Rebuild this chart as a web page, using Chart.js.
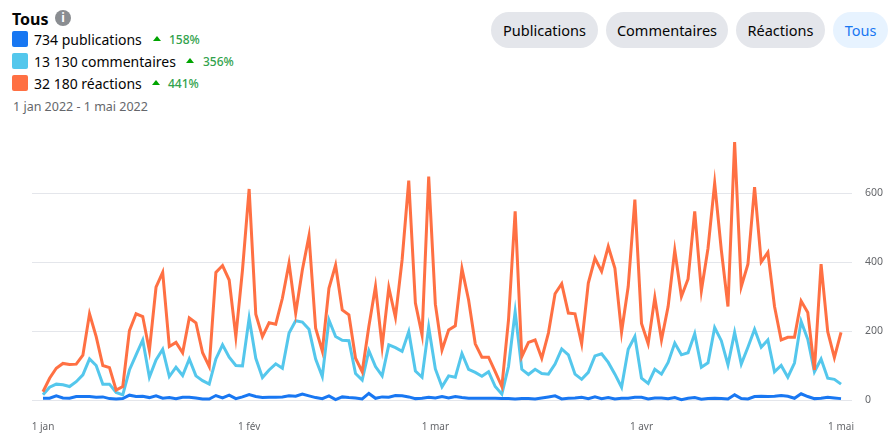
<!DOCTYPE html>
<html lang="fr">
<head>
<meta charset="utf-8">
<title>Tous</title>
<script src="https://cdn.jsdelivr.net/npm/chart.js@4"></script>
<style>
  html, body { margin: 0; padding: 0; background: #fff; }
  body { width: 893px; height: 441px; position: relative; overflow: hidden; font-family: "Noto Sans", sans-serif; color: #050505; }
  .abs { position: absolute; white-space: nowrap; }
  #title { left: 12px; top: 7px; font-size: 16px; line-height: 24px; font-weight: 700; }
  #info { left: 55px; top: 10px; width: 16px; height: 16px; border-radius: 50%; background: #8a8d91; color: #fff; font-size: 12px; line-height: 16px; font-weight: 700; text-align: center; }
  .swatch { left: 12px; width: 16px; height: 16px; border-radius: 2px; }
  .count { left: 34px; font-size: 14px; line-height: 20px; }
  .arrow { width: 0; height: 0; border-left: 4px solid transparent; border-right: 4px solid transparent; border-bottom: 5px solid #00a400; }
  .pct { font-size: 12px; line-height: 16px; font-weight: 500; color: #31a24c; }
  #range { left: 13px; top: 98px; font-size: 12.5px; line-height: 18px; color: #65676b; }
  .btn { top: 12px; height: 36px; line-height: 36px; border-radius: 18px; background: #e4e6eb; text-align: center; font-size: 14.5px; }
  .btn.on { background: #e7f3ff; color: #1877f2; }
  #wrap { position: absolute; left: 0; top: 130px; width: 893px; height: 311px; }
</style>
</head>
<body>
<div class="abs" id="title">Tous</div>
<div class="abs" id="info">i</div>
<div id="legend"></div>
<div class="abs" id="range">1 jan 2022 - 1 mai 2022</div>
<div id="buttons"></div>
<div id="wrap"><canvas id="chart"></canvas></div>

<script>
const seriesNames = ['publications', 'commentaires', 'réactions'];
const seriesTotals = ['734', '13 130', '32 180'];
const seriesChanges = ['158%', '356%', '441%'];
const seriesColors = ['#1877f2', '#54c7ec', '#ff7043'];
const buttonLabels = ['Publications', 'Commentaires', 'Réactions', 'Tous'];

const tickDays = [0, 31, 59, 90, 120];
const tickLabels = ['1 jan', '1 fév', '1 mar', '1 avr', '1 mai'];
const yTicks = [0, 200, 400, 600];

// one value per day, 1 jan to 1 mai
const publications = [
  5, 5, 12, 6, 5, 10, 10, 10, 8, 9, 4, 3, 4, 14, 10, 11, 7, 12, 5, 7, 4, 8, 8, 6, 3, 3, 13, 6, 14, 4, 9,
  16, 10, 7, 8, 8, 9, 12, 11, 17, 12, 7, 4, 12, 1, 9, 7, 6, 3, 19, 5, 9, 8, 13, 12, 9, 4, 5, 8,
  6, 10, 6, 10, 7, 5, 5, 5, 5, 5, 4, 4, 3, 4, 4, 3, 6, 9, 12, 3, 5, 6, 8, 4, 9, 4, 7, 3, 5, 5, 8,
  8, 3, 6, 6, 4, 7, 1, 5, 7, 2, 4, 5, 4, 3, 15, 4, 3, 10, 11, 10, 11, 13, 11, 5, 18, 10, 4, 5, 8, 6,
  4
];
const commentaires = [
  15, 37, 46, 44, 39, 53, 73, 119, 100, 46, 46, 22, 15, 87, 131, 174, 66, 116, 147, 68, 95, 71, 119, 70, 56, 46, 119, 160, 124, 100, 99,
  237, 121, 65, 87, 105, 92, 194, 230, 226, 205, 119, 68, 232, 184, 173, 172, 77, 58, 143, 97, 70, 160, 152, 141, 198, 84, 66, 211,
  90, 38, 70, 66, 135, 89, 80, 69, 82, 39, 17, 97, 256, 89, 74, 89, 77, 75, 104, 148, 131, 75, 60, 80, 128, 134, 109, 75, 37, 147, 184,
  63, 48, 89, 75, 109, 165, 131, 137, 192, 95, 108, 210, 172, 102, 196, 104, 153, 205, 153, 174, 82, 100, 66, 107, 228, 176, 82, 119, 63, 60,
  46
];
const reactions = [
  24, 63, 92, 106, 103, 104, 130, 250, 184, 100, 94, 29, 39, 201, 250, 242, 143, 327, 370, 155, 167, 137, 238, 224, 137, 97, 370, 390, 348, 184, 377,
  612, 249, 184, 224, 220, 295, 397, 252, 377, 476, 208, 142, 324, 391, 261, 247, 121, 82, 213, 329, 155, 326, 240, 406, 636, 281, 189, 648,
  278, 145, 203, 215, 381, 290, 163, 124, 124, 82, 39, 232, 547, 126, 167, 174, 121, 194, 308, 337, 252, 250, 163, 339, 411, 373, 445, 382, 197, 329, 581,
  222, 163, 297, 174, 271, 434, 300, 351, 547, 317, 440, 629, 435, 271, 748, 329, 394, 617, 400, 428, 271, 174, 182, 182, 287, 254, 87, 394, 198, 123,
  196
];
const seriesValues = [publications, commentaires, reactions];

// header built from the arrays above
const legendTops = [31, 53, 75];
const arrowLefts = [153, 186, 152];
const pctLefts = [169, 203, 168];
const legend = document.getElementById('legend');
seriesNames.forEach((name, i) => {
  const top = legendTops[i];
  legend.insertAdjacentHTML('beforeend',
    `<div class="abs swatch" style="top:${top}px;background:${seriesColors[i]}"></div>` +
    `<div class="abs count" style="top:${top - 1}px">${seriesTotals[i]} ${name}</div>` +
    `<div class="abs arrow" style="left:${arrowLefts[i]}px;top:${top + 5}px"></div>` +
    `<div class="abs pct" style="left:${pctLefts[i]}px;top:${top + 1}px">${seriesChanges[i]}</div>`);
});

const buttonLefts = [491, 606, 736, 833];
const buttonWidths = [107, 122, 89, 55];
const buttons = document.getElementById('buttons');
buttonLabels.forEach((label, i) => {
  const on = i === buttonLabels.length - 1 ? ' on' : '';
  buttons.insertAdjacentHTML('beforeend',
    `<div class="abs btn${on}" style="left:${buttonLefts[i]}px;width:${buttonWidths[i]}px">${label}</div>`);
});

const xValues = reactions.map((v, i) => i);

new Chart(document.getElementById('chart').getContext('2d'), {
  type: 'line',
  data: {
    labels: xValues,
    datasets: [2, 1, 0].map(s => ({
      label: seriesNames[s],
      data: seriesValues[s].map((v, i) => ({ x: i, y: v })),
      borderColor: seriesColors[s],
      backgroundColor: seriesColors[s],
      borderWidth: 3,
      pointRadius: 0,
      tension: 0,
      clip: false
    }))
  },
  options: {
    responsive: true,
    maintainAspectRatio: false,
    animation: false,
    layout: { padding: { left: 32 } },
    plugins: { legend: { display: false }, tooltip: { enabled: false } },
    scales: {
      x: {
        type: 'linear',
        min: -1.65,
        max: 121.65,
        afterBuildTicks: axis => { axis.ticks = tickDays.map(v => ({ value: v })); },
        afterFit: axis => {
          axis.height = 41;
          axis.paddingLeft = 0;
          axis.paddingRight = 0;
        },
        grid: { display: false },
        border: { display: false },
        ticks: {
          autoSkip: false,
          maxRotation: 0,
          padding: 13,
          color: '#65676b',
          font: { family: '"Noto Sans", sans-serif', size: 10 },
          callback: v => tickLabels[tickDays.indexOf(v)]
        }
      },
      y: {
        position: 'right',
        min: 0,
        max: 783,
        afterBuildTicks: axis => { axis.ticks = yTicks.map(v => ({ value: v })); },
        afterFit: axis => {
          axis.width = 41;
          axis.paddingTop = 0;
          axis.paddingBottom = 0;
        },
        grid: { color: '#e4e6eb', lineWidth: 1, drawTicks: false },
        border: { display: false },
        ticks: {
          padding: 13,
          color: '#65676b',
          font: { family: '"Noto Sans", sans-serif', size: 10.5 }
        }
      }
    }
  }
});
</script>
</body>
</html>
